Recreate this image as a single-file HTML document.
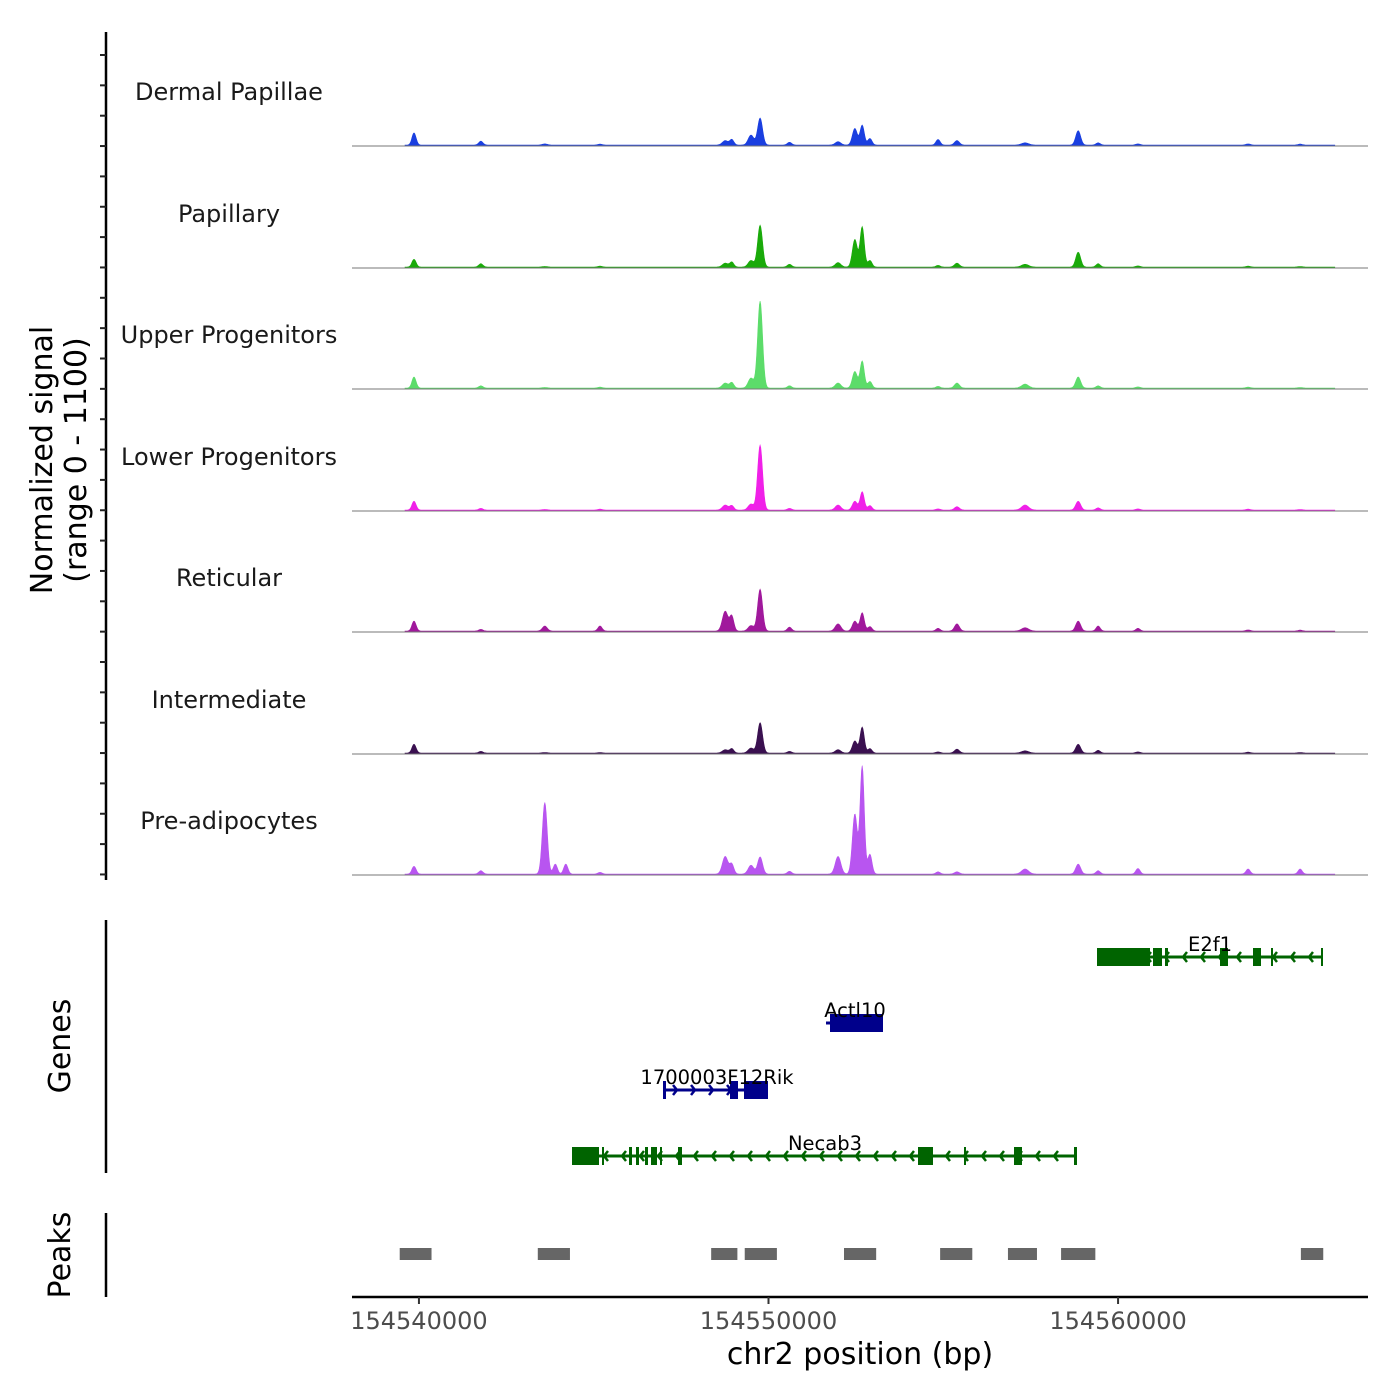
<!DOCTYPE html>
<html><head><meta charset="utf-8">
<style>
html,body{margin:0;padding:0;background:#fff;}
svg{display:block;font-family:"DejaVu Sans","Liberation Sans",sans-serif;}
</style></head>
<body>
<svg id="chart" width="1400" height="1400" viewBox="0 0 1400 1400">
<g id="tracks"></g>
<g id="genes"></g>
<g id="peaks"></g>
<g id="axes"></g>
</svg>
<script>
// ---- data ----
const trackNames = ["Dermal Papillae","Papillary","Upper Progenitors","Lower Progenitors","Reticular","Intermediate","Pre-adipocytes"];
const trackColors = ["#1a3fe0","#1aaa0a","#5cdc6a","#f020e8","#a0189c","#3a1050","#b855f0"];
// peak centers in bp, heights in normalized signal units (0-1100), widths (sigma bp)
const peakPos = [154539860,154541770,154543600,154543900,154544200,154545180,154548760,154548950,154549500,154549760,154550600,154551990,154552470,154552680,154552900,154554850,154555390,154557340,154558860,154559430,154560570,154563720,154565210];
const peakWidth = [60,60,70,60,60,60,80,60,80,70,60,80,70,60,60,60,70,100,70,60,60,60,60];
const sigDermal = [110,35,10,0,0,8,40,50,90,245,25,30,150,180,60,50,40,20,130,20,10,10,8];
const sigPapillary = [70,30,5,0,0,8,35,45,60,380,25,40,250,365,60,15,35,25,135,30,10,8,5];
const sigUpper = [100,20,5,0,0,8,45,50,90,790,20,45,150,245,60,15,45,35,100,20,10,8,5];
const sigLower = [80,15,5,0,0,8,45,40,55,590,15,45,80,165,40,10,30,45,80,20,10,8,5];
const sigReticular = [90,15,45,0,0,45,180,135,50,380,35,65,90,165,40,25,65,30,90,45,25,10,8];
const sigIntermediate = [80,15,5,0,0,5,30,40,45,275,15,30,110,235,40,10,35,20,80,25,10,8,5];
const sigPreadipo = [70,30,650,90,90,15,160,90,80,155,25,160,545,980,180,20,20,45,90,30,50,45,45];
const trackSignals = [sigDermal,sigPapillary,sigUpper,sigLower,sigReticular,sigIntermediate,sigPreadipo];
const xTicks = [154540000,154550000,154560000];
const peakStarts = [154539450,154543400,154548360,154549320,154552160,154554910,154556850,154558370,154565230];
const peakEnds = [154540360,154544320,154549110,154550240,154553080,154555830,154557680,154559350,154565870];

// ---- scales ----
const X0=352, X1=1368, BP0=154538085, BP1=154567150;
const xs = bp => X0 + (bp-BP0)/(BP1-BP0)*(X1-X0);
const baselines=[146,268,389,511,632,754,875];
const ys = v => v*121/1100;
const NS="http://www.w3.org/2000/svg";
function mk(tag,attrs,parent){const e=document.createElementNS(NS,tag);for(const k in attrs)e.setAttribute(k,attrs[k]);parent.appendChild(e);return e;}

// ---- tracks ----
const tg=document.getElementById('tracks');
trackNames.forEach((name,t)=>{
  const base=baselines[t];
  const sig=trackSignals[t];
  let d=`M${xs(154539600).toFixed(1)},${base}`;
  for(let bp=154539600;bp<=154566200;bp+=20){
    let v=0;
    for(let i=0;i<peakPos.length;i++){const z=(bp-peakPos[i])/peakWidth[i];if(Math.abs(z)<5)v+=sig[i]*Math.exp(-0.5*z*z);}
    d+=`L${xs(bp).toFixed(1)},${(base-ys(v)-1).toFixed(1)}`;
  }
  d+=`L${xs(154566200).toFixed(1)},${base}Z`;
  const p=mk('path',{d:d,fill:trackColors[t],stroke:trackColors[t],'stroke-width':0.6},tg);
  
  
  const l=mk('line',{x1:X0,x2:X1,y1:base,y2:base,stroke:'#777','stroke-width':1},tg);
  
  
  const tx=mk('text',{x:229,y:base-46,'text-anchor':'middle','font-size':24,fill:'#1a1a1a'},tg);
  tx.textContent=name;
  
  
});

// ---- genes ----
const gg=document.getElementById('genes');
function gene(name,color,y,x0,x1,exons,dir,labelX){
  mk('line',{x1:x0,x2:x1,y1:y,y2:y,stroke:color,'stroke-width':3},gg);
  exons.forEach(e=>mk('rect',{x:e[0],y:y-9,width:e[1]-e[0],height:18,fill:color},gg));
  for(let x=x0+14;x<x1-6;x+=18){
    const pts=dir<0?`${x+4},${y-5} ${x},${y} ${x+4},${y+5}`:`${x-4},${y-5} ${x},${y} ${x-4},${y+5}`;
    mk('polyline',{points:pts,fill:'none',stroke:color,'stroke-width':2.5},gg);
  }
  const t=mk('text',{x:labelX,y:y-6,'text-anchor':'middle','font-size':19.5,fill:'#000'},gg);
  t.textContent=name;
  
  
}
gene('E2f1','#006400',957,1097,1323,[[1097,1150],[1153,1162],[1165,1168],[1220,1228],[1253,1261],[1271,1273],[1321,1323]],-1,1210);
gene('Actl10','#00008b',1023,826,883,[[830,883]],1,855);
gene('1700003F12Rik','#00008b',1090,663,768,[[663,666],[730,738],[744,768]],1,717);
gene('Necab3','#006400',1156,572,1077,[[572,599],[602,604],[629,632],[636,639],[645,648],[651,657],[660,662],[678,682],[918,933],[964,966],[1014,1022],[1074,1077]],-1,825);

// ---- peaks ----
const pg=document.getElementById('peaks');
peakStarts.forEach((s,i)=>{
  const r=mk('rect',{x:xs(s),y:1248,width:xs(peakEnds[i])-xs(s),height:12,fill:'#666'},pg);
  
  
});

// ---- axes ----
const ag=document.getElementById('axes');
mk('line',{x1:106,x2:106,y1:32,y2:880,stroke:'#000','stroke-width':2.5},ag);
for(let y=55;y<=880;y+=30.35) mk('line',{x1:100,x2:106,y1:y,y2:y,stroke:'#222','stroke-width':2},ag);
mk('line',{x1:106,x2:106,y1:920,y2:1173,stroke:'#000','stroke-width':2.5},ag);
mk('line',{x1:106,x2:106,y1:1213,y2:1297,stroke:'#000','stroke-width':2.5},ag);
mk('line',{x1:X0,x2:X1,y1:1297,y2:1297,stroke:'#000','stroke-width':2.5},ag);
xTicks.forEach(v=>{
  mk('line',{x1:xs(v),x2:xs(v),y1:1297,y2:1304,stroke:'#333','stroke-width':2},ag);
  const t=mk('text',{x:xs(v),y:1329,'text-anchor':'middle','font-size':24,fill:'#4d4d4d'},ag);
  t.textContent=v;
  
  
});
const xt=mk('text',{x:860,y:1364,'text-anchor':'middle','font-size':30,fill:'#000'},ag);
xt.textContent='chr2 position (bp)';


const yt=mk('text',{transform:'translate(52,460) rotate(-90)','text-anchor':'middle','font-size':30,fill:'#000'},ag);
yt.textContent='Normalized signal';


const yt2=mk('text',{transform:'translate(86,460) rotate(-90)','text-anchor':'middle','font-size':30,fill:'#000'},ag);
yt2.textContent='(range 0 - 1100)';


const gt=mk('text',{transform:'translate(70,1046) rotate(-90)','text-anchor':'middle','font-size':30,fill:'#000'},ag);
gt.textContent='Genes';


const pt=mk('text',{transform:'translate(70,1255) rotate(-90)','text-anchor':'middle','font-size':30,fill:'#000'},ag);
pt.textContent='Peaks';


</script>
</body></html>
